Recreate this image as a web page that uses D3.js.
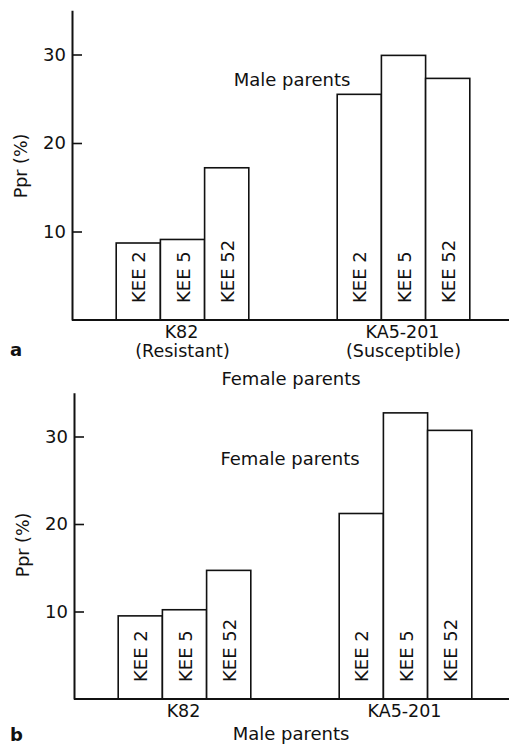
<!DOCTYPE html>
<html>
<head>
<meta charset="utf-8">
<script src="https://cdn.jsdelivr.net/npm/d3@7"></script>
<style>
  body { margin: 0; background: #fff; }
  svg text { font-family: "DejaVu Sans", "Liberation Sans", sans-serif; fill: #111; }
</style>
</head>
<body>
<svg id="chart" width="511" height="744"></svg>
<script>
// data
const femaleParents = ["K82", "KA5-201"];
const femaleNotes = ["(Resistant)", "(Susceptible)"];
const maleParents = ["KEE 2", "KEE 5", "KEE 52"];
const pprA = [[8.7, 9.1, 17.2], [25.5, 29.9, 27.3]];   // panel a
const pprB = [[9.5, 10.2, 14.7], [21.2, 32.7, 30.7]];  // panel b
const yTicks = [10, 20, 30];

const svg = d3.select("#chart");

function drawPanel(opt) {
    var g = svg.append("g");
    var left = opt.left, base = opt.base;

    var x = d3.scaleBand().domain(femaleParents)
        .range([left, left + 442]).paddingInner(0.4).paddingOuter(0.2);
    var xi = d3.scaleBand().domain(maleParents).range([0, x.bandwidth()]);
    var y = d3.scaleLinear().domain([0, 35]).range([base, base - 35 * opt.unit]);

    // bars
    opt.values.forEach(function(vals, gi) {
        var grp = g.append("g").attr("transform", "translate(" + x(femaleParents[gi]) + ",0)");
        grp.selectAll("rect").data(vals).enter().append("rect")
            .attr("x", function(d, i) { return xi(maleParents[i]); })
            .attr("y", function(d) { return y(d); })
            .attr("width", xi.bandwidth())
            .attr("height", function(d) { return base - y(d); })
            .attr("fill", "#fff").attr("stroke", "#111").attr("stroke-width", 1.6);
        grp.selectAll("text").data(vals).enter().append("text")
            .attr("transform", function(d, i) {
                return "translate(" + (xi(maleParents[i]) + xi.bandwidth() / 2 + 7) + "," + (base - 17) + ") rotate(-90)";
            })
            .attr("font-size", 18)
            .text(function(d, i) { return maleParents[i]; });
    });

    // y axis, ticks pointing inward
    var axis = g.append("g").attr("transform", "translate(" + left + ",0)")
        .call(d3.axisLeft(y).tickValues(yTicks).tickSizeInner(-10).tickSizeOuter(0).tickPadding(6));
    axis.select(".domain").attr("stroke", "#111").attr("stroke-width", 2);
    axis.selectAll(".tick line").attr("stroke", "#111").attr("stroke-width", 1.6);
    axis.selectAll(".tick text").attr("font-size", 18).attr("fill", "#111")
        .attr("font-family", "DejaVu Sans, sans-serif");

    // baseline
    g.append("line").attr("x1", left).attr("x2", 509)
        .attr("y1", base).attr("y2", base)
        .attr("stroke", "#111").attr("stroke-width", 2);

    // category labels
    femaleParents.forEach(function(f, i) {
        g.append("text").attr("x", x(f) + x.bandwidth() / 2 - 1).attr("y", base + 18)
            .attr("text-anchor", "middle").attr("font-size", 17.5).text(f);
        if (opt.notes) {
            g.append("text").attr("x", x(f) + x.bandwidth() / 2).attr("y", base + 37)
                .attr("text-anchor", "middle").attr("font-size", 17.5).text(femaleNotes[i]);
        }
    });

    g.append("text")
        .attr("transform", "translate(" + (left - 45) + "," + (base - 154) + ") rotate(-90)")
        .attr("text-anchor", "middle").attr("font-size", 17.5).text("Ppr (%)");

    g.append("text").attr("x", opt.innerX).attr("y", opt.innerY)
        .attr("text-anchor", "middle").attr("font-size", 18).text(opt.inner);

    g.append("text").attr("x", 291).attr("y", opt.titleY)
        .attr("text-anchor", "middle").attr("font-size", 18).text(opt.title);

    g.append("text").attr("x", 10).attr("y", opt.letterY)
        .attr("font-family", "DejaVu Serif, serif").attr("font-weight", "bold")
        .attr("font-size", 18).text(opt.letter);
}

drawPanel({ left: 72, base: 320, unit: 8.85, values: pprA, notes: true,
    inner: "Male parents", innerX: 292, innerY: 86,
    title: "Female parents", titleY: 385, letter: "a", letterY: 356 });

drawPanel({ left: 74, base: 699, unit: 8.75, values: pprB, notes: false,
    inner: "Female parents", innerX: 290, innerY: 465,
    title: "Male parents", titleY: 740, letter: "b", letterY: 741 });
</script>
</body>
</html>
